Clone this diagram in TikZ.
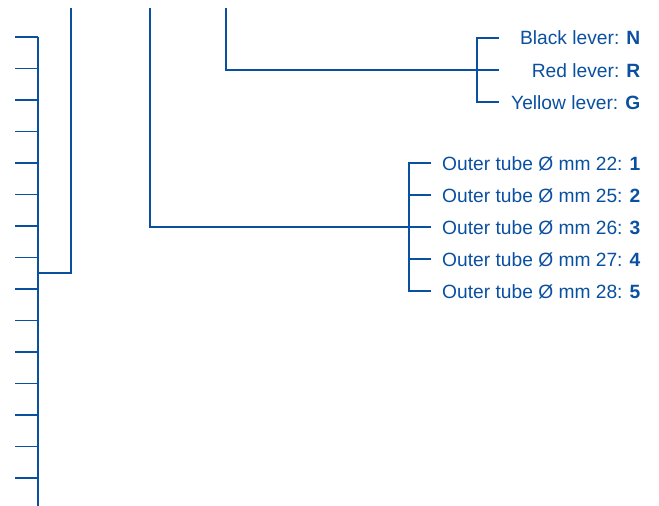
\documentclass[tikz,border=0pt]{standalone}
\usepackage{fontspec}
\setmainfont{Liberation Sans}
\definecolor{leverblue}{RGB}{10,80,160}
\begin{document}
\begin{tikzpicture}[x=1pt,y=-1pt,line width=1.3pt,draw=leverblue,
    lbl/.style={anchor=base east,inner sep=0pt,text=leverblue,
      font=\fontsize{19.2}{22}\selectfont}]
      \useasboundingbox (0,0) rectangle (659,506);
      % scale on the left
      \draw
        (38,37) coordinate (stop)
        (38,506) coordinate (sbot)
        (38,273) coordinate (sjoin)
        (71,273) coordinate (sknee)
        (71,8) coordinate (sfree);
      \draw (stop) to (sbot);
      \foreach \i in {0,...,14} {
        \coordinate (t\i) at (38,{37+31.5*\i});
        \draw (t\i) -- ++(-23,0);
      }
      \draw (sjoin) -- (sknee) -- (sfree);
      % levers
      \draw
        (641,45) node[lbl] (N){Black lever: \textbf{N}}
        (641,77) node[lbl] (R){Red lever: \textbf{R}}
        (641,109) node[lbl] (G){Yellow lever: \textbf{G}};
      \draw
        (477,38) coordinate (bN)
        (477,102) coordinate (bG)
        (499,38) coordinate (eN)
        (499,70) coordinate (eR)
        (499,102) coordinate (eG)
        (226,70) coordinate (lknee)
        (226,8) coordinate (lfree);
      \draw (eN) -- (bN) -- (bG) -- (eG);
      \draw (eR) -- (lknee) -- (lfree);
      % tubes
      \draw
        (641,170) node[lbl] (1){Outer tube Ø mm 22: \textbf{1}}
        (641,202) node[lbl] (2){Outer tube Ø mm 25: \textbf{2}}
        (641,234) node[lbl] (3){Outer tube Ø mm 26: \textbf{3}}
        (641,266) node[lbl] (4){Outer tube Ø mm 27: \textbf{4}}
        (641,298) node[lbl] (5){Outer tube Ø mm 28: \textbf{5}};
      \draw
        (409,163) coordinate (b1)
        (409,291) coordinate (b5)
        (431,163) coordinate (e1)
        (431,195) coordinate (e2)
        (431,227) coordinate (e3)
        (431,259) coordinate (e4)
        (431,291) coordinate (e5)
        (150,227) coordinate (tknee)
        (150,8) coordinate (tfree);
      \draw (e1) -- (b1) -- (b5) -- (e5);
      \draw (e2) -- (409,195);
      \draw (e4) -- (409,259);
      \draw (e3) -- (tknee) -- (tfree);
    \end{tikzpicture}
\end{document}
